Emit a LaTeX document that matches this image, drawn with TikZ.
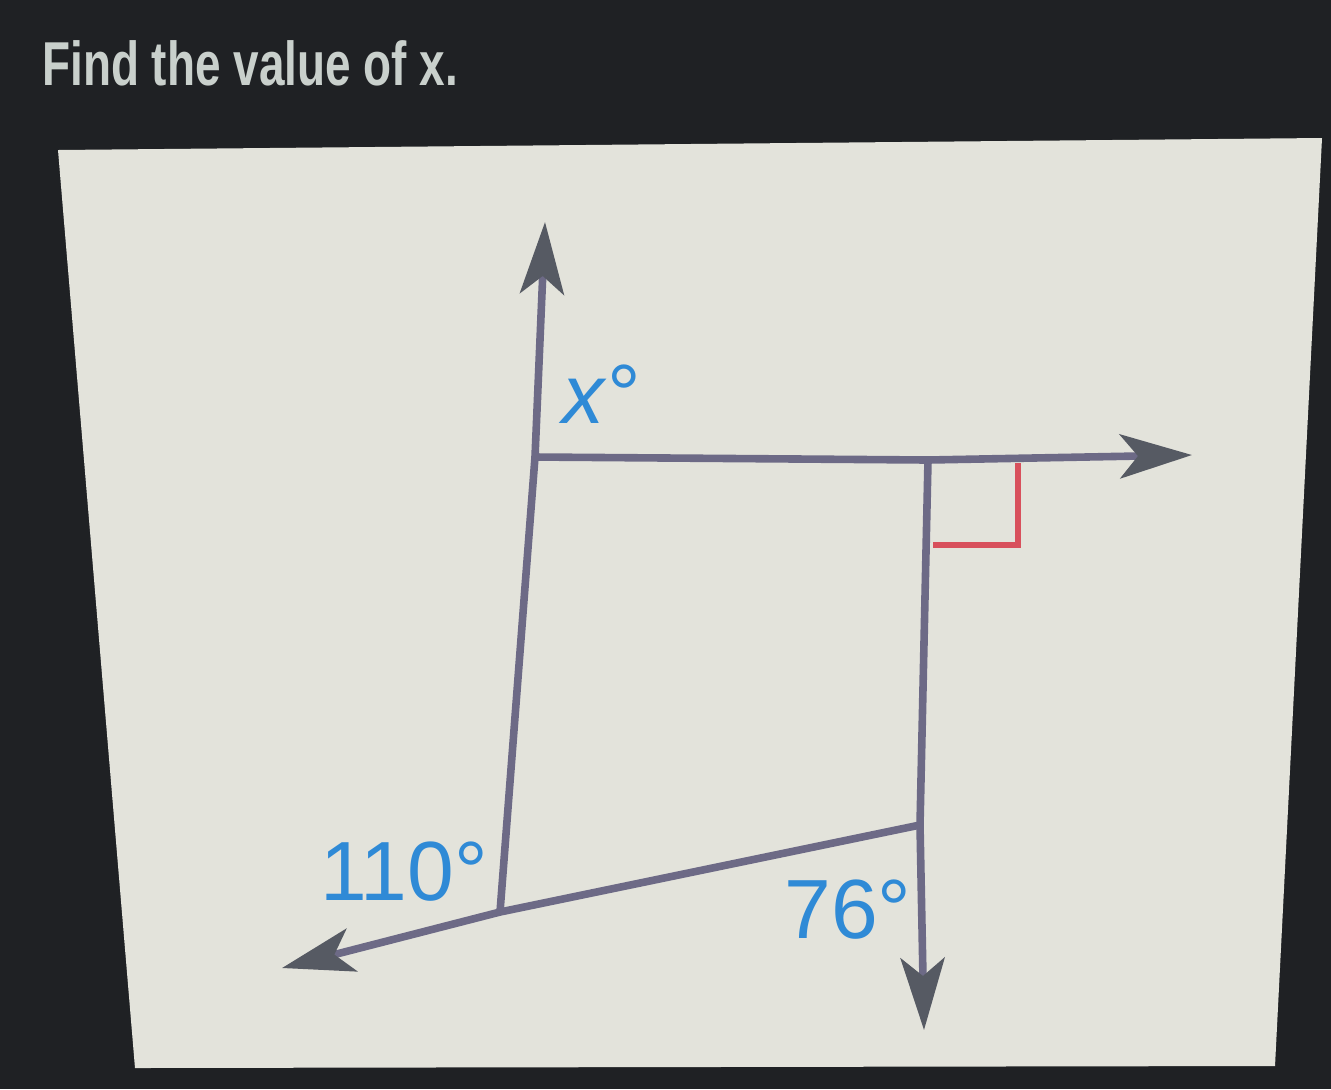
\documentclass[tikz,border=0pt]{standalone}
\usepackage{fontspec}
\setmainfont{Liberation Sans}
\usetikzlibrary{arrows.meta}
\definecolor{screen}{HTML}{1F2124}
\definecolor{panel}{HTML}{E3E3DB}
\definecolor{raygray}{HTML}{6D6A86}
\definecolor{tipgray}{HTML}{565A63}
\definecolor{angblue}{HTML}{2F8AD6}
\definecolor{markred}{HTML}{D8505C}
\definecolor{titlegray}{HTML}{C9D0CC}
\tikzset{
  ray/.style={raygray, line width=3.8pt, -{Stealth[length=36pt,width=22pt,inset=9pt,color=tipgray]}},
  lbl/.style={angblue, font=\fontsize{42}{48}\selectfont, inner sep=0pt}
}
\begin{document}
\begin{tikzpicture}[x=0.5pt,y=-0.5pt]
    \fill[screen] (0,0) rectangle (1331,1089);
    \useasboundingbox (0,0) rectangle (1331,1089);
    \fill[panel] (58,150) -- (1322,138) -- (1275,1066) -- (135,1068) -- cycle;
    \node[anchor=base west, inner sep=0pt, titlegray,
          font=\fontsize{31}{36}\selectfont\bfseries] (title) at (42,85)
          {\scalebox{0.74}[1]{Find the value of x.}};
    % corners of the quadrilateral
    \coordinate (A) at (535,457);
    \coordinate (B) at (928,460);
    \coordinate (C) at (920,825);
    \coordinate (D) at (500,912);
    % free ends of the rays
    \coordinate (up) at (545,222);
    \coordinate (right) at (1192,455);
    \coordinate (down) at (924,1030);
    \coordinate (left) at (282,968);
    \draw[ray] (D) -- (A) -- (up);
    \draw[ray] (A) -- (B) -- (right);
    \draw[ray] (B) -- (C) -- (down);
    \draw[ray] (C) -- (D) -- (left);
    % right angle
    \draw[markred, line width=2.6pt] (1018,463) -- (1018,545) -- (933,545);
    \node[lbl] (xlab) at (602,394) {\textit{x}°};
    \node[lbl] (alab) at (404,872) {110°};
    \node[lbl] (blab) at (848,910) {76°};
\end{tikzpicture}
\end{document}
